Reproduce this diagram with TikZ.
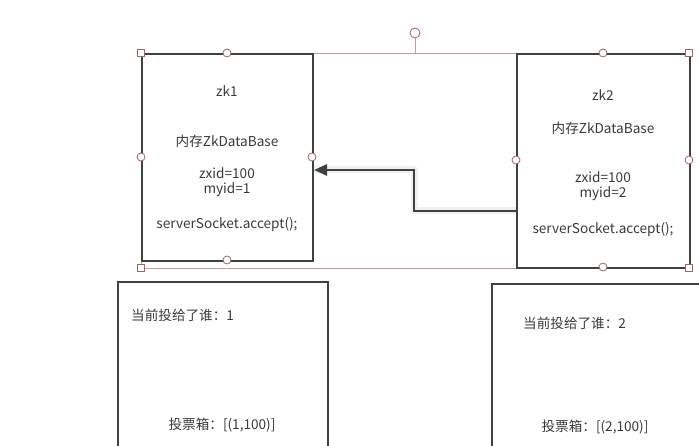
\documentclass[tikz,border=0pt]{standalone}
\usepackage{fontspec}
\setmainfont{Noto Sans CJK SC}
\usetikzlibrary{arrows.meta}
\definecolor{boxline}{HTML}{404040}
\definecolor{selline}{HTML}{C49A9A}
\definecolor{handle}{HTML}{A86060}
\definecolor{txt}{HTML}{3A3A3A}
\begin{document}
\begin{tikzpicture}[x=1pt,y=-1pt,
  box/.style={draw=boxline,line width=2pt,rectangle,inner sep=0pt,anchor=north west},
  lbl/.style={text=txt,font=\fontsize{13.6}{15}\selectfont,inner sep=0pt},
  hcirc/.style={circle,draw=handle,fill=white,line width=0.8pt,minimum size=8pt,inner sep=0pt},
  hsq/.style={rectangle,draw=handle,fill=white,line width=0.8pt,minimum size=7pt,inner sep=0pt},
  conn/.style={draw=boxline,line width=2.6pt,-{Triangle[length=13pt,width=11pt]}},
  glow/.style={draw=black!6,line width=7pt,line join=round}]
\fill[white] (0,0) rectangle (699,446);
\useasboundingbox (0,0) rectangle (699,446);
\clip (0,0) rectangle (699,446);
% selection frame
\draw[selline,line width=0.8pt] (141,53) rectangle (689,268);
\draw[selline,line width=0.8pt] (415,38) -- (415,53);
% boxes
\node[box,minimum width=171pt,minimum height=207pt] (zk1) at (141,53) {};
\node[box,minimum width=173pt,minimum height=214pt] (zk2) at (516,53) {};
\node[box,minimum width=210pt,minimum height=190pt] (vb1) at (117,281) {};
\node[box,minimum width=230pt,minimum height=190pt] (vb2) at (491,283) {};
% texts zk1
\node[lbl] (t1a) at (227,91) {zk1};
\node[lbl] (t1b) at (227,141) {内存ZkDataBase};
\node[lbl] (t1c) at (227,173) {zxid=100};
\node[lbl] (t1d) at (227,190) {myid=1};
\node[lbl] (t1e) at (227,224) {serverSocket.accept();};
% texts zk2
\node[lbl] (t2a) at (603,95) {zk2};
\node[lbl] (t2b) at (603,128) {内存ZkDataBase};
\node[lbl] (t2c) at (603,177) {zxid=100};
\node[lbl] (t2d) at (603,194) {myid=2};
\node[lbl] (t2e) at (603,229) {serverSocket.accept();};
% vote boxes texts
\node[lbl,anchor=west] (v1a) at (131,315) {当前投给了谁：1};
\node[lbl] (v1b) at (222,425) {投票箱：[(1,100)]};
\node[lbl,anchor=west] (v2a) at (523,323) {当前投给了谁：2};
\node[lbl] (v2b) at (595,427) {投票箱：[(2,100)]};
% connector
\draw[glow] ([yshift=-50pt]zk2.west) -- ++(-102pt,0) |- ([yshift=-12.5pt]zk1.east);
\draw[conn] ([yshift=-50pt]zk2.west) -- ++(-102pt,0) |- ([yshift=-12.5pt]zk1.east);
% handles
\node[hcirc] (h1) at (227,53) {};
\node[hcirc] (h2) at (141,157) {};
\node[hcirc] (h3) at (312,157) {};
\node[hcirc] (h4) at (227,260) {};
\node[hcirc] (h5) at (603,53) {};
\node[hcirc] (h6) at (516,160) {};
\node[hcirc] (h7) at (689,160) {};
\node[hcirc] (h8) at (603,267) {};
\node[hcirc,minimum size=10pt] (hr) at (415,33) {};
\node[hsq] (s1) at (141,53) {};
\node[hsq] (s2) at (689,53) {};
\node[hsq] (s3) at (689,268) {};
\node[hsq] (s4) at (141,268) {};
\end{tikzpicture}
\end{document}
